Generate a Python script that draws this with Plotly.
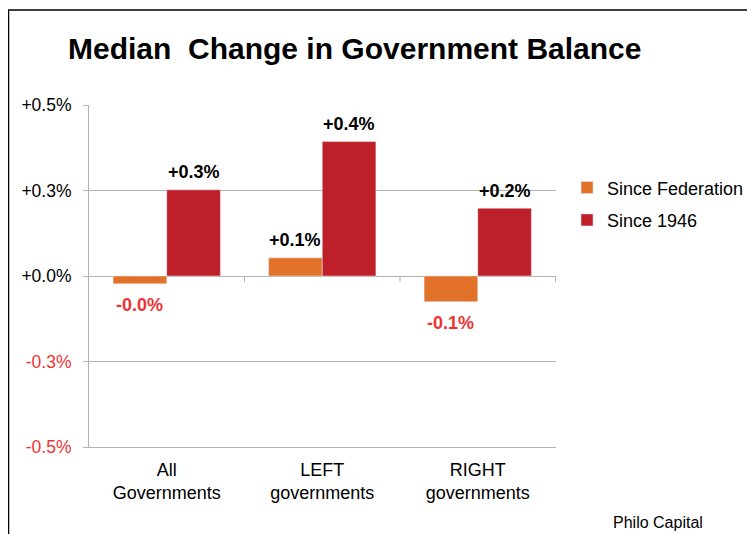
import plotly.graph_objects as go

categories = ["All<br>Governments", "LEFT<br>governments", "RIGHT<br>governments"]
since_federation = [-0.023, 0.053, -0.075]
since_1946 = [0.252, 0.393, 0.198]
tick_vals = [0.5, 0.25, 0.0, -0.25, -0.5]
tick_text = ["+0.5%", "+0.3%", "+0.0%", "-0.3%", "-0.5%"]

FONT = "Liberation Sans, Arial, sans-serif"
ORANGE = "#E2712A"
RED = "#BE1F28"
NEG = "#EE3333"
GRID = "#B3B3B3"

# page body has an 8px margin: plot area in figure pixels
PL, PR, PT, PB = 81, 548, 97, 439
W, H = 755, 534
BARGAP = 0.31


def fmt(v):
    return f"{v:+.1f}%"


series = [("Since Federation", since_federation, ORANGE),
          ("Since 1946", since_1946, RED)]

fig = go.Figure()
for i, (name, vals, col) in enumerate(series):
    fig.add_trace(go.Bar(
        x=categories, y=vals, name=name, marker_color=col, legendgroup=f"g{i}",
        hoverinfo="skip",
    ))

pw, ph = PR - PL, PB - PT
bar_px = pw / len(categories) * (1 - BARGAP) / len(series)

# value labels
for i, (name, vals, col) in enumerate(series):
    for cat, v in zip(categories, vals):
        pos = v >= 0
        fig.add_annotation(
            x=cat, y=v, xref="x", yref="y", text=f"<b>{fmt(v)}</b>",
            showarrow=False, xanchor="center", yanchor="middle",
            xshift=(i - (len(series) - 1) / 2) * bar_px,
            yshift=17.5 if pos else -21,
            font=dict(family=FONT, size=18, color="black" if pos else NEG),
        )

tt = [t if v >= 0 else f'<span style="color:{NEG}">{t}</span>' for t, v in zip(tick_text, tick_vals)]

fig.update_layout(
    width=W, height=H,
    margin=dict(l=PL, r=W - PR, t=PT, b=H - PB),
    paper_bgcolor="white", plot_bgcolor="white",
    barmode="group", bargap=BARGAP, bargroupgap=0,
    font=dict(family=FONT, size=18, color="black"),
    title=dict(text="<b>Median\u00a0 Change in Government Balance</b>",
               x=60 / W, xref="container", xanchor="left",
               y=1 - 40 / H, yref="container", yanchor="middle",
               font=dict(family=FONT, size=30, color="black")),
    showlegend=True,
    legend=dict(x=1.0236, xanchor="left", y=0.812, yanchor="top",
                font=dict(family=FONT, size=18), bgcolor="rgba(0,0,0,0)",
                tracegroupgap=6, traceorder="grouped"),
    xaxis=dict(showgrid=False, showline=True, linecolor=GRID, linewidth=1,
               ticks="", tickfont=dict(size=18), ticklabelstandoff=6,
               fixedrange=True),
    yaxis=dict(range=[-0.5, 0.5], tickvals=tick_vals, ticktext=tt,
               showgrid=True, gridcolor=GRID, gridwidth=1,
               zeroline=True, zerolinecolor=GRID, zerolinewidth=1,
               showline=True, linecolor=GRID, linewidth=1,
               ticks="outside", ticklen=5, tickcolor=GRID,
               tickfont=dict(size=17.5), ticklabelstandoff=8),
)

# category divider ticks on the zero line
for xv in [0.5, 1.5, 2.5]:
    fig.add_shape(type="line", xref="x", yref="y", x0=xv, x1=xv,
                  ysizemode="pixel", yanchor=0, y0=0, y1=-6,
                  line=dict(color=GRID, width=1))

# outer frame (left and top edges visible)
fig.add_shape(type="rect", xref="paper", yref="paper",
              x0=(0.5 - PL) / pw, x1=2.0, y0=-1.0, y1=(PB - 2) / ph,
              line=dict(color="black", width=1.5), layer="below")

fig.add_annotation(text="Philo Capital", xref="paper", yref="paper",
                   x=(650 - PL) / pw, y=(PB - 514) / ph,
                   xanchor="center", yanchor="middle", showarrow=False,
                   font=dict(family=FONT, size=16, color="black"))

fig.write_html("out.html")
